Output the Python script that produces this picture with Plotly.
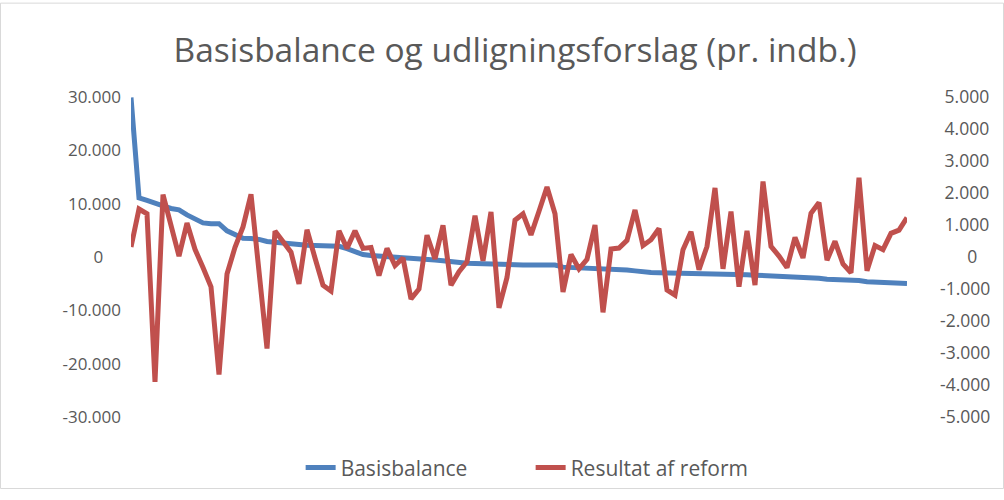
import plotly.graph_objects as go

# Data (98 municipalities, sorted by Basisbalance)
basisbalance = [29900, 11100, 10600, 10000, 9600, 9100, 8850, 7900, 7100, 6400,
                6250, 6250, 4900, 4200, 3500, 3450, 3300, 2900, 2750, 2550,
                2400, 2200, 2200, 2150, 2150, 2100, 2000, 1550, 1100, 450,
                270, 180, 150, 100, 0, -50, -200, -350, -550, -700,
                -900, -1000, -1150, -1200, -1280, -1360, -1450, -1480, -1500, -1500,
                -1500, -1500, -1500, -1520, -1900, -1950, -2000, -2000, -2050, -2100,
                -2200, -2300, -2430, -2600, -2800, -2900, -2950, -2970, -2980, -3000,
                -3000, -3000, -3100, -3200, -3280, -3300, -3320, -3350, -3400, -3470,
                -3470, -3500, -3750, -3780, -3780, -3800, -4000, -4190, -4200, -4200,
                -4200, -4400, -4650, -4690, -4700, -4950, -4980, -4980]

resultat = [310, 1500, 1350, -3900, 1950, 1000, 30, 1060, 240, -330,
            -930, -3670, -530, 300, 940, 1960, -430, -2860, 810, 490,
            150, -840, 850, -30, -880, -1060, 820, 270, 820, 270,
            300, -580, 270, -270, -30, -1310, -1000, 680, -60, 990,
            -880, -460, -150, 1290, -120, 1410, -1590, -640, 1150, 1350,
            690, 1430, 2190, 1350, -1090, 80, -370, -70, 1000, -1730,
            250, 280, 520, 1470, 360, 540, 890, -1030, -1190, 230,
            790, -400, 330, 2160, -370, 1420, -930, 820, -880, 2360,
            330, 30, -330, 610, -30, 1370, 1700, -100, 490, -220,
            -490, 2480, -430, 360, 230, 740, 840, 1230]

x_idx = list(range(len(basisbalance)))

left_tickvals = [30000, 20000, 10000, 0, -10000, -20000, -30000]
left_ticktext = ["30.000", "20.000", "10.000", "0", "-10.000", "-20.000", "-30.000"]
right_tickvals = [5000, 4000, 3000, 2000, 1000, 0, -1000, -2000, -3000, -4000, -5000]
right_ticktext = ["5.000", "4.000", "3.000", "2.000", "1.000", "0",
                  "-1.000", "-2.000", "-3.000", "-4.000", "-5.000"]

series_names = ["Basisbalance", "Resultat af reform"]
title_text = "Basisbalance og udligningsforslag (pr. indb.)"

NB = "\u00a0"


def pad_left_axis(t):
    # zero label sits a little left of the right-aligned column in the reference
    return t + NB * 4 if t == "0" else t


def pad_right_axis(t):
    if t == "0":
        return NB * 6 + t
    if not t.startswith("-"):
        return "\u2008" + t
    return t


font_family = "Open Sans, Noto Sans, DejaVu Sans, sans-serif"
grey = "#595959"

fig = go.Figure()
fig.add_trace(go.Scatter(x=x_idx, y=basisbalance, mode="lines", name=series_names[0],
                         line=dict(color="#4F81BD", width=5), yaxis="y"))
fig.add_trace(go.Scatter(x=x_idx, y=resultat, mode="lines", name=series_names[1],
                         line=dict(color="#C0504D", width=5), yaxis="y2"))

fig.update_layout(
    width=1004, height=500,
    paper_bgcolor="white", plot_bgcolor="white",
    margin=dict(l=131, r=97, t=97, b=74),
    title=dict(text=title_text, x=0.513, xanchor="center", y=0.9, yanchor="middle",
               font=dict(family=font_family, size=33.5, color=grey)),
    xaxis=dict(range=[0, len(basisbalance) - 1], showgrid=False, zeroline=False,
               showticklabels=False, showline=False, ticks=""),
    yaxis=dict(range=[-30000, 30000], tickvals=left_tickvals,
               ticktext=[pad_left_axis(t) for t in left_ticktext],
               showgrid=False, zeroline=False, showline=False, ticks="",
               ticklabelstandoff=9,
               tickfont=dict(family=font_family, size=17, color=grey)),
    yaxis2=dict(range=[-5000, 5000], tickvals=right_tickvals,
                ticktext=[pad_right_axis(t) for t in right_ticktext],
                overlaying="y", side="right", showgrid=False, zeroline=False,
                showline=False, ticks="", ticklabelstandoff=32,
                tickfont=dict(family=font_family, size=17.5, color=grey)),
    legend=dict(orientation="h", x=0.515, xanchor="center", y=-0.095, yanchor="top",
                font=dict(family=font_family, size=21, color=grey),
                entrywidth=185, entrywidthmode="pixels",
                bgcolor="rgba(0,0,0,0)"),
    showlegend=True,
)

fig.add_shape(type="rect", xref="paper", yref="paper", x0=-130.5/776, x1=1 + 96.5/776,
              y0=-73.5/329, y1=1 + 96.5/329, line=dict(color="#D9D9D9", width=1),
              fillcolor="rgba(0,0,0,0)", layer="below")

fig.write_html("out.html", config={"displayModeBar": False},
               post_script="document.body.style.margin='0';")
